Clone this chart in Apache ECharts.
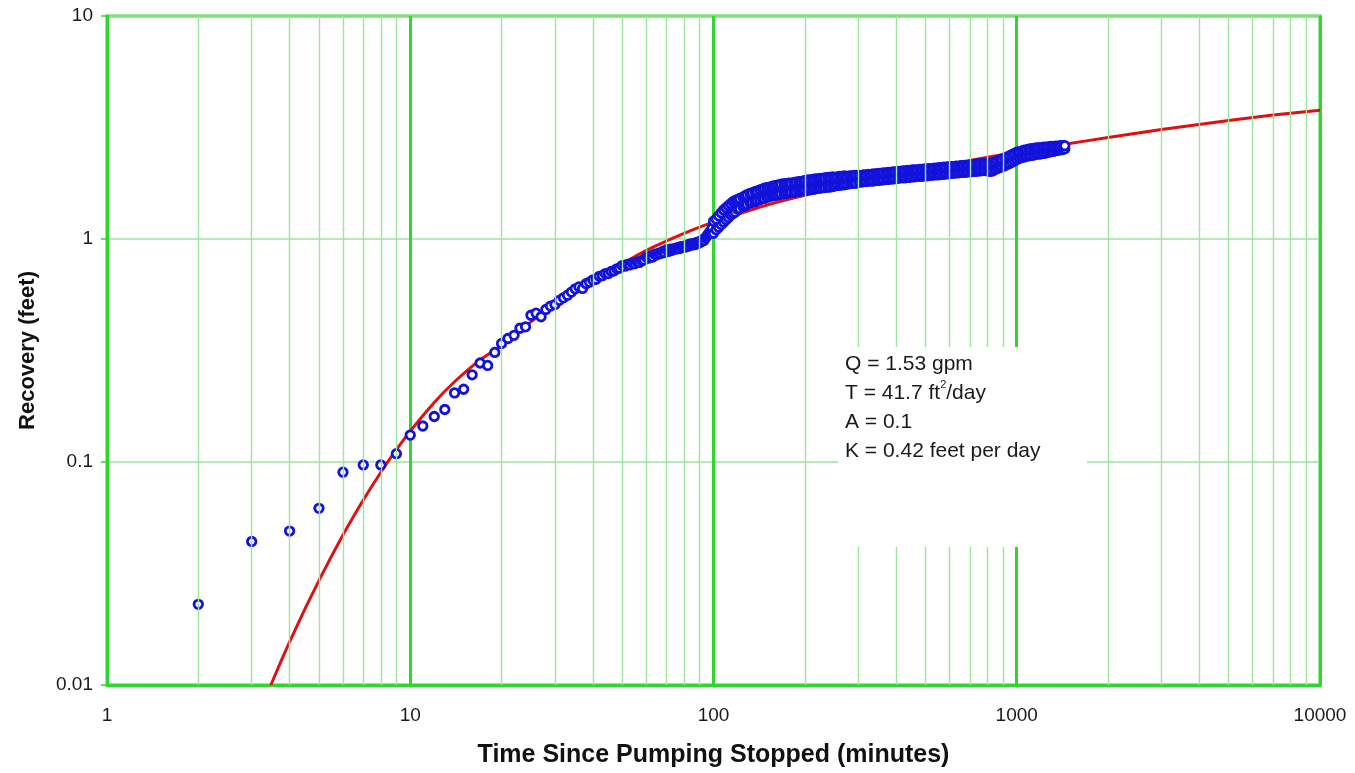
<!DOCTYPE html>
<html>
<head>
<meta charset="utf-8">
<title>Recovery Test</title>
<script src="https://cdn.jsdelivr.net/npm/echarts@6/dist/echarts.min.js"></script>
<style>
  html, body { margin: 0; padding: 0; background: #ffffff; }
  #chart { width: 1355px; height: 773px; }
</style>
</head>
<body>
<div id="chart"></div>
<script>
// Early recovery readings (feet) against time since pumping stopped (minutes)
const timeMin = [
  2, 3, 4, 5, 6, 7, 8, 9, 10, 11, 12, 13, 14, 15, 16, 17, 18, 19, 20,
  21, 22, 23, 24, 25, 26, 27, 28, 29, 30, 31, 32, 33, 34, 35,
  36, 37, 38, 39, 40, 41, 42, 43, 44, 45, 46, 47, 48, 49, 50,
  51, 52, 53, 54, 55, 56, 57, 58, 59, 60, 61, 62, 63, 64, 65,
  66, 67, 68, 69, 70, 71, 72, 73, 74, 75, 76, 77, 78, 79, 80,
  81, 82, 83, 84, 85, 86, 87, 88, 89, 90, 91, 92, 93, 94, 95,
  96, 97, 98, 99
];
const recoveryFt = [
  0.023, 0.044, 0.049, 0.062, 0.090, 0.097, 0.097, 0.109, 0.132, 0.145, 0.160,
  0.172, 0.204, 0.212, 0.246, 0.278, 0.271, 0.310, 0.340,
  0.358, 0.370, 0.398, 0.404, 0.455, 0.465, 0.448, 0.483, 0.500, 0.508, 0.531,
  0.545, 0.560, 0.578, 0.598,
  0.61, 0.60, 0.63, 0.64, 0.655, 0.66, 0.68, 0.685, 0.70, 0.70, 0.715, 0.72,
  0.735, 0.74, 0.76,
  0.755, 0.77, 0.765, 0.78, 0.775, 0.79, 0.785, 0.80, 0.805, 0.83, 0.82, 0.84,
  0.83, 0.855, 0.85,
  0.865, 0.86, 0.88, 0.87, 0.895, 0.88, 0.90, 0.89, 0.905, 0.90, 0.915, 0.905,
  0.925, 0.915, 0.93,
  0.92, 0.94, 0.93, 0.95, 0.94, 0.955, 0.945, 0.965, 0.955, 0.975, 0.97, 0.99,
  0.985, 1.01, 1.03,
  1.05, 1.07, 1.09, 1.12
];

// Late-time record (100 to 1440 minutes): readings along the low and high
// side of the scatter at each time
const bandTime = [
  100, 102, 104, 106, 108, 110, 112, 114, 116, 118, 120, 122, 125, 127, 129, 132,
  134, 137, 139, 142, 145, 147, 150, 153, 156, 158, 161, 164, 167, 171, 174, 177,
  180, 184, 187, 191, 194, 198, 201, 205, 209, 213, 217, 221, 225, 229, 233, 238,
  242, 247, 251, 256, 261, 265, 270, 275, 281, 286, 291, 296, 302, 308, 313, 319,
  325, 331, 337, 344, 350, 356, 363, 370, 377, 384, 391, 398, 406, 413, 421, 429,
  437, 445, 453, 461, 470, 479, 488, 497, 506, 515, 525, 535, 545, 555, 565, 575,
  586, 597, 608, 619, 631, 643, 655, 667, 679, 692, 705, 718, 731, 745, 759, 773,
  787, 802, 817, 832, 847, 863, 879, 895, 912, 929, 946, 964, 982, 1000, 1019, 1038,
  1057, 1076, 1096, 1117, 1138, 1159, 1180, 1202, 1225, 1247, 1271, 1294, 1318, 1343,
  1368, 1393, 1419, 1440
];
const bandLowFt = [
  1.06, 1.10, 1.13, 1.16, 1.19, 1.22, 1.25, 1.28, 1.30, 1.32,
  1.36, 1.37, 1.40, 1.41, 1.43, 1.45, 1.46, 1.47, 1.49, 1.50,
  1.52, 1.52, 1.54, 1.55, 1.56, 1.57, 1.57, 1.58, 1.59, 1.60,
  1.60, 1.61, 1.62, 1.62, 1.63, 1.64, 1.64, 1.65, 1.65, 1.66,
  1.67, 1.67, 1.68, 1.69, 1.69, 1.70, 1.70, 1.71, 1.71, 1.72,
  1.73, 1.74, 1.74, 1.75, 1.75, 1.76, 1.77, 1.78, 1.78, 1.78,
  1.80, 1.80, 1.81, 1.81, 1.82, 1.82, 1.82, 1.83, 1.83, 1.84,
  1.84, 1.85, 1.85, 1.86, 1.86, 1.87, 1.87, 1.88, 1.88, 1.88,
  1.89, 1.89, 1.90, 1.90, 1.91, 1.91, 1.91, 1.92, 1.92, 1.93,
  1.93, 1.94, 1.94, 1.94, 1.95, 1.95, 1.96, 1.96, 1.97, 1.97,
  1.98, 1.98, 1.99, 1.99, 1.99, 2.00, 2.00, 2.01, 2.01, 2.02,
  2.02, 2.03, 2.03, 2.02, 2.01, 2.02, 2.05, 2.07, 2.09, 2.11,
  2.13, 2.16, 2.18, 2.21, 2.24, 2.27, 2.30, 2.32, 2.33, 2.35,
  2.36, 2.37, 2.38, 2.40, 2.40, 2.41, 2.42, 2.43, 2.45, 2.46,
  2.47, 2.49, 2.50, 2.51, 2.52, 2.54
];
const bandHighFt = [
  1.20, 1.23, 1.27, 1.31, 1.35, 1.38, 1.41, 1.44, 1.47, 1.49,
  1.50, 1.52, 1.54, 1.56, 1.58, 1.60, 1.61, 1.63, 1.64, 1.66,
  1.67, 1.69, 1.70, 1.71, 1.72, 1.73, 1.74, 1.75, 1.76, 1.77,
  1.77, 1.78, 1.78, 1.79, 1.80, 1.81, 1.81, 1.82, 1.83, 1.84,
  1.84, 1.85, 1.86, 1.86, 1.87, 1.87, 1.88, 1.89, 1.89, 1.90,
  1.89, 1.90, 1.91, 1.91, 1.92, 1.91, 1.92, 1.92, 1.93, 1.93,
  1.93, 1.93, 1.94, 1.94, 1.95, 1.95, 1.96, 1.96, 1.97, 1.97,
  1.98, 1.98, 1.99, 1.99, 2.00, 2.00, 2.01, 2.01, 2.02, 2.02,
  2.03, 2.03, 2.04, 2.04, 2.04, 2.05, 2.05, 2.06, 2.06, 2.07,
  2.07, 2.08, 2.08, 2.09, 2.09, 2.10, 2.10, 2.11, 2.11, 2.11,
  2.12, 2.12, 2.13, 2.13, 2.14, 2.14, 2.15, 2.15, 2.16, 2.17,
  2.17, 2.18, 2.18, 2.18, 2.19, 2.20, 2.22, 2.24, 2.26, 2.28,
  2.31, 2.33, 2.36, 2.39, 2.42, 2.45, 2.46, 2.48, 2.50, 2.51,
  2.53, 2.54, 2.55, 2.56, 2.56, 2.57, 2.58, 2.58, 2.59, 2.60,
  2.60, 2.61, 2.61, 2.62, 2.62, 2.62
];

// Fitted recovery curve
const curveTime = [
  3.47, 3.75, 4, 4.5, 5, 5.5, 6, 7, 8, 9, 10, 12, 14, 17, 20, 25, 30, 35, 40,
  50, 60, 70, 80, 90, 100, 120, 150, 200, 300, 400, 500, 700, 1000, 1440,
  2000, 3000, 5000, 7000, 10000
];
const curveRecovery = [
  0.0100, 0.0128, 0.0156, 0.0220, 0.0294, 0.0378, 0.0471, 0.0675, 0.0900,
  0.1135, 0.1376, 0.185, 0.229, 0.287, 0.333, 0.425, 0.510, 0.585, 0.655,
  0.775, 0.890, 0.980, 1.06, 1.13, 1.19, 1.29, 1.42, 1.57, 1.78, 1.93, 2.06,
  2.25, 2.45, 2.66, 2.85, 3.10, 3.40, 3.60, 3.78
];

// Axis tick labels and the 2..9 gridline positions of each decade
const xTickLabels = ['1', '10', '100', '1000', '10000'];
const yTickLabels = ['0.01', '0.1', '1', '10'];
const minorTimes = [
  2, 3, 4, 5, 6, 7, 8, 9,
  20, 30, 40, 50, 60, 70, 80, 90,
  200, 300, 400, 500, 600, 700, 800, 900,
  2000, 3000, 4000, 5000, 6000, 7000, 8000, 9000
];

// Fit parameters shown in the note
const noteLines = ['Q = 1.53 gpm', 'T = 41.7 ft', '2', '/day', 'A = 0.1', 'K = 0.42 feet per day'];

const MAJOR = '#2ed62e';
const MINOR = '#9fe39f';
const FONT = '"Liberation Sans", Arial, Helvetica, sans-serif';

// Points are drawn in this order: early record, then the low and high sides
// of the late-time scatter (the last reading ends up on top)
const observed = timeMin.map((t, i) => [t, recoveryFt[i]])
  .concat(bandTime.map((t, i) => [t, bandLowFt[i]]))
  .concat(bandTime.map((t, i) => [t, bandHighFt[i]]));
const fitted = curveTime.map((t, i) => [t, curveRecovery[i]]);

const chart = echarts.init(document.getElementById('chart'), null, { renderer: 'canvas' });

chart.setOption({
  animation: false,
  backgroundColor: '#ffffff',
  grid: {
    left: 107, right: 35, top: 16, bottom: 87,
    show: true, borderColor: MAJOR, borderWidth: 3, backgroundColor: 'transparent'
  },
  xAxis: {
    type: 'log', logBase: 10, min: 1, max: 10000,
    name: 'Time Since Pumping Stopped (minutes)',
    nameLocation: 'middle', nameGap: 58,
    nameTextStyle: { fontFamily: FONT, fontSize: 25, fontWeight: 'bold', color: '#111' },
    axisLine: { show: true, lineStyle: { color: MAJOR, width: 3 } },
    axisTick: { show: false },
    axisLabel: {
      fontFamily: FONT, fontSize: 19, color: '#1a1a1a', margin: 21,
      formatter: v => xTickLabels[Math.round(Math.log10(v))]
    },
    splitLine: { show: true, lineStyle: { color: MAJOR, width: 3 } },
    minorTick: { show: false },
    minorSplitLine: { show: false }
  },
  yAxis: {
    type: 'log', logBase: 10, min: 0.01, max: 10,
    name: 'Recovery (feet)',
    nameLocation: 'middle', nameGap: 68, nameRotate: 90,
    nameTextStyle: { fontFamily: FONT, fontSize: 22, fontWeight: 'bold', color: '#111' },
    axisLine: { show: true, lineStyle: { color: MAJOR, width: 3 } },
    axisTick: { show: true, length: 6, lineStyle: { color: MAJOR, width: 1.5 } },
    axisLabel: {
      fontFamily: FONT, fontSize: 19, color: '#1a1a1a', margin: 14,
      formatter: v => yTickLabels[Math.round(Math.log10(v)) + 2]
    },
    splitLine: { show: true, lineStyle: { color: MINOR, width: 1.6 } }
  },
  series: [
    {
      // light gridlines at 2..9 within each decade
      type: 'line',
      data: [],
      z: 1,
      silent: true,
      markLine: {
        silent: true,
        symbol: 'none',
        label: { show: false },
        lineStyle: { color: MINOR, width: 1.4, type: 'solid' },
        emphasis: { disabled: true },
        data: minorTimes.map(t => ({ xAxis: t }))
      }
    },
    {
      name: 'Fitted',
      type: 'line',
      data: fitted,
      smooth: 0.2,
      showSymbol: false,
      z: 3,
      lineStyle: { color: '#e01010', width: 3 }
    },
    {
      name: 'Observed',
      type: 'scatter',
      data: observed,
      z: 4,
      symbol: 'circle',
      symbolSize: 8.5,
      itemStyle: { color: '#ffffff', borderColor: '#1212dc', borderWidth: 2.8, opacity: 1 }
    }
  ],
  graphic: [
    {
      type: 'rect', z: 50, silent: true,
      shape: { x: 838, y: 347, width: 249, height: 200 },
      style: { fill: '#ffffff' }
    },
    {
      type: 'text', z: 51, silent: true,
      x: 845, y: 350,
      style: {
        text: '{n|' + noteLines[0] + '}\n{n|' + noteLines[1] + '}{s|' + noteLines[2] + '}{n|' + noteLines[3] +
              '}\n{n|' + noteLines[4] + '}\n{n|' + noteLines[5] + '}',
        rich: {
          n: { fontFamily: FONT, fontSize: 21, lineHeight: 29, fill: '#1a1a1a' },
          s: { fontFamily: FONT, fontSize: 11, lineHeight: 20, verticalAlign: 'top', fill: '#1a1a1a' }
        }
      }
    }
  ]
});
</script>
</body>
</html>
